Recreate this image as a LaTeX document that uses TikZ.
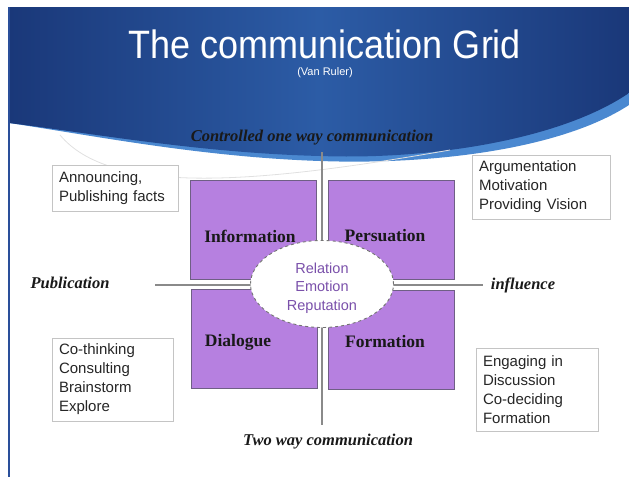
\documentclass[tikz,border=0pt]{standalone}
\usepackage{fontspec}
\setmainfont{Liberation Serif}
\setsansfont{Liberation Sans}
\usetikzlibrary{shapes.geometric}

\definecolor{navy}{HTML}{1A3879}
\definecolor{midblue}{HTML}{2C5CA6}
\definecolor{bandblue}{HTML}{4A88D0}
\definecolor{frameblue}{HTML}{2A4F9A}
\definecolor{quadfill}{HTML}{B680E0}
\definecolor{quadline}{HTML}{6F5F85}
\definecolor{coretext}{HTML}{7A50AA}
\definecolor{axisgray}{HTML}{8A8A8A}
\definecolor{boxgray}{HTML}{C4C4C4}

\tikzset{
  quad/.style={draw=quadline, line width=1pt, fill=quadfill, minimum width=126pt, minimum height=99pt, inner sep=0pt},
  quadlabel/.style={font=\fontsize{17.5}{20}\selectfont\bfseries, text=black!90},
  axislabel/.style={font=\fontsize{16.5}{19}\selectfont\bfseries\itshape, text=black!90},
  axisline/.style={draw=axisgray, line width=1.3pt},
  sidebox/.style={draw=boxgray, line width=0.8pt, fill=white, inner xsep=7pt, inner ysep=0pt,
    align=left, font=\sffamily\fontsize{15}{19}\selectfont, text=black!85},
  core/.style={ellipse, draw=black!55, dashed, line width=0.9pt, fill=white,
    minimum width=143pt, minimum height=87pt, inner sep=0pt},
  coretxt/.style={align=center, font=\sffamily\fontsize{14.5}{18.5}\selectfont, text=coretext}
}

\begin{document}
\begin{tikzpicture}[x=1pt,y=-1pt]
\useasboundingbox (0,0) rectangle (629,477);

% header banner: lighter rim, then the dark shaded body
\fill[bandblue] (9,7) -- (629,7) -- (629,105)
  .. controls (560,150) and (430,165) .. (320,161)
  .. controls (200,157) and (90,135) .. (9,123) -- cycle;
\shade[left color=navy, right color=navy, middle color=midblue] (9,7) -- (629,7) -- (629,93)
  .. controls (560,140) and (430,160) .. (320,156)
  .. controls (200,153) and (90,133) .. (9,123) -- cycle;

% faint decorative arc below the banner
\draw[black!12, line width=0.8pt] (60,135) .. controls (110,195) and (250,185) .. (450,150);

% left frame line
\draw[frameblue, line width=1.6pt] (9,7) -- (9,477);

% title
\node[text=white, font=\sffamily\fontsize{36}{40}\selectfont, yscale=1.1] (title) at (325,44) {The communication Grid};
\node[text=white, font=\sffamily\fontsize{11}{13}\selectfont] (author) at (325,73) {(Van Ruler)};

% axes
\coordinate (vtop) at (322,152);
\coordinate (vbot) at (322,425);
\coordinate (hleft) at (155,285);
\coordinate (hright) at (483,285);
\draw[axisline] (vtop) -- (vbot);
\draw[axisline] (hleft) -- (hright);

% axis labels
\node[axislabel] (ctrl) at (312,138) {Controlled one way communication};
\node[axislabel] (twoway) at (328,442) {Two way communication};
\node[axislabel] (pub) at (70,283) {Publication};
\node[axislabel] (infl) at (523,285) {influence};

% the four quadrants
\node[quad] (qinfo) at (253.5,229.5) {};
\node[quad] (qpers) at (391,230) {};
\node[quad] (qdial) at (254,338.5) {};
\node[quad] (qform) at (391,340) {};
\node[quadlabel] (tinfo) at (250,236) {Information};
\node[quadlabel] (tpers) at (385,236) {Persuation};
\node[quadlabel] (tdial) at (238,342) {Dialogue};
\node[quadlabel] (tform) at (385,342) {Formation};

% centre ellipse and its three words
\node[core] (centre) at (322,284) {};
\node[coretxt] (centretext) at (322,288) {Relation\\Emotion\\Reputation};

% side boxes
\node[sidebox, text width=112pt, minimum height=46pt] (announce) at (115,188) {Announcing,\\Publishing facts};
\node[sidebox, text width=107pt, minimum height=83pt] (cothink) at (112.5,379.5) {Co-thinking\\Consulting\\Brainstorm\\Explore};
\node[sidebox, text width=124pt, minimum height=64pt] (argue) at (541,187) {Argumentation\\Motivation\\Providing Vision};
\node[sidebox, text width=108pt, minimum height=83pt] (engage) at (537,389.5) {Engaging in\\Discussion\\Co-deciding\\Formation};
\end{tikzpicture}
\end{document}
